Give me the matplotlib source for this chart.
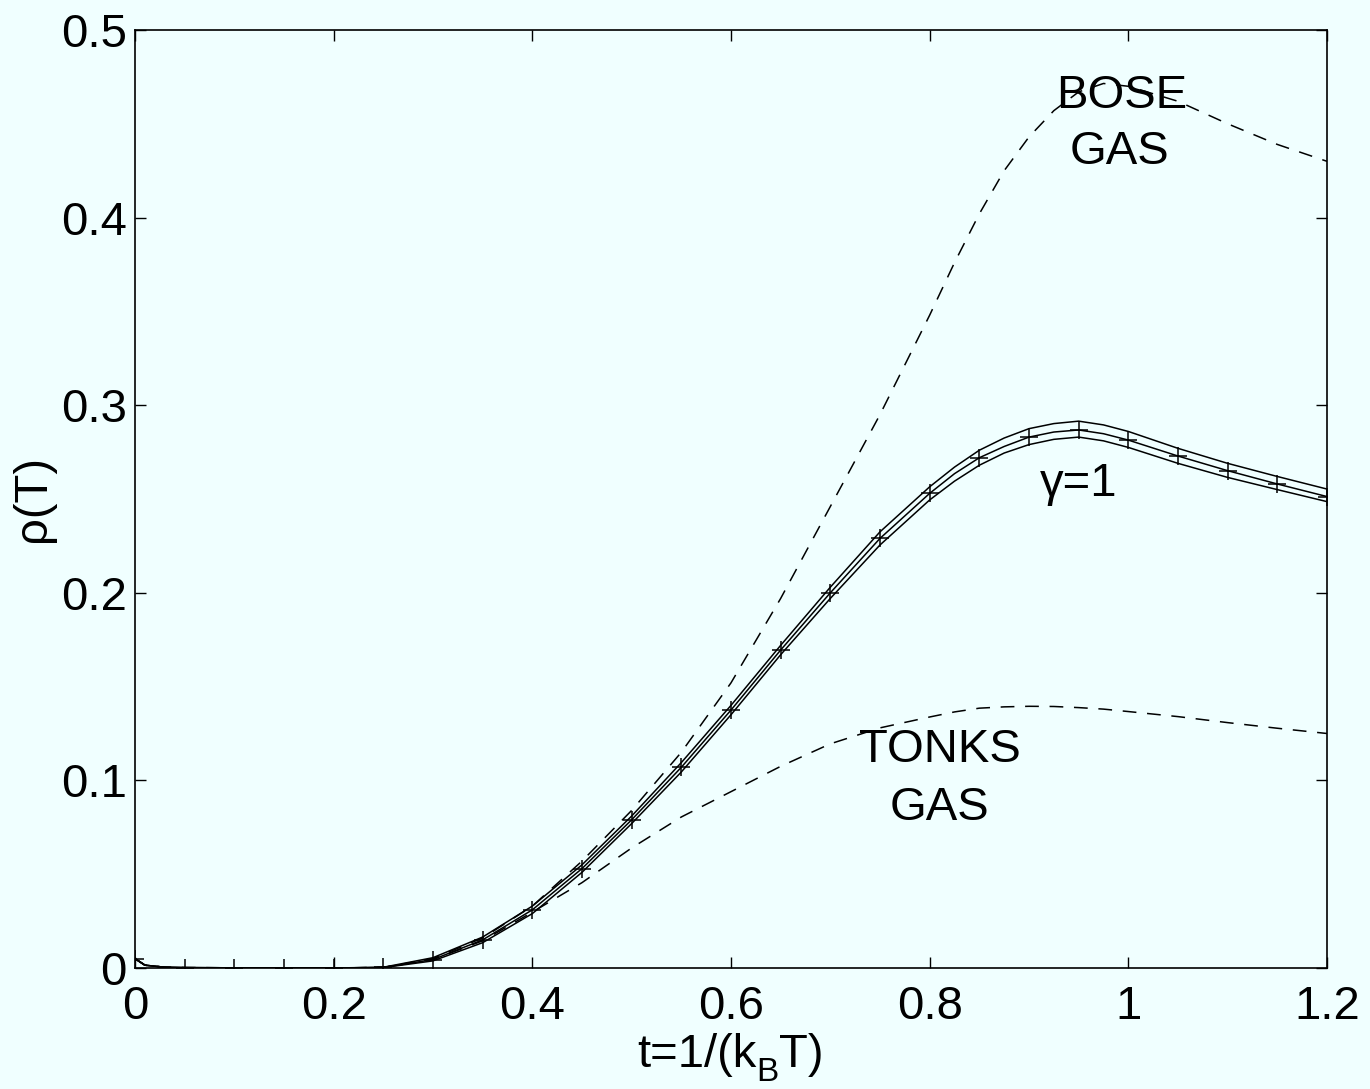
import matplotlib
matplotlib.use("Agg")
import matplotlib.pyplot as plt

plt.rcParams['font.family'] = ['Liberation Sans', 'DejaVu Sans']

# data
t = [0, 0.01, 0.03, 0.05, 0.1, 0.15, 0.2, 0.25, 0.3, 0.35, 0.4, 0.45, 0.5,
     0.55, 0.6, 0.65, 0.7, 0.75, 0.8, 0.825, 0.85, 0.875, 0.9, 0.925, 0.95,
     0.975, 1.0, 1.05, 1.1, 1.15, 1.2]

rho_mid = [0.005, 0.0015, 0.0004, 0.0002, 0.0001, 0.0, 0.0, 0.0003, 0.0045,
           0.015, 0.031, 0.053, 0.079, 0.107, 0.1375, 0.1695, 0.200, 0.229,
           0.253, 0.2635, 0.272, 0.278, 0.283, 0.2857, 0.2868, 0.2848, 0.2814,
           0.2729, 0.2651, 0.258, 0.2513]
rho_up = [0.005, 0.0015, 0.0004, 0.0002, 0.0001, 0.0, 0.0, 0.0004, 0.0055,
          0.0165, 0.033, 0.055, 0.081, 0.1095, 0.140, 0.172, 0.203, 0.2325,
          0.2565, 0.267, 0.276, 0.2825, 0.2875, 0.2902, 0.2915, 0.2895, 0.286,
          0.277, 0.269, 0.262, 0.2553]
rho_low = [0.005, 0.0015, 0.0004, 0.0002, 0.0001, 0.0, 0.0, 0.0002, 0.0038,
           0.0135, 0.029, 0.051, 0.077, 0.1045, 0.135, 0.167, 0.197, 0.2255,
           0.2495, 0.2595, 0.268, 0.2745, 0.279, 0.2818, 0.283, 0.281, 0.2775,
           0.269, 0.2615, 0.255, 0.2486]

rho_bose = [0.005, 0.0015, 0.0004, 0.0002, 0.0001, 0.0, 0.0, 0.0003, 0.005,
            0.016, 0.033, 0.057, 0.084, 0.115, 0.152, 0.197, 0.246, 0.295,
            0.348, 0.376, 0.402, 0.425, 0.443, 0.457, 0.467, 0.4715, 0.470,
            0.462, 0.450, 0.439, 0.430]
rho_tonks = [0.005, 0.0015, 0.0004, 0.0002, 0.0001, 0.0, 0.0, 0.0003, 0.0045,
             0.0145, 0.0298, 0.0455, 0.064, 0.0805, 0.094, 0.1075, 0.1195,
             0.128, 0.1338, 0.1365, 0.1385, 0.1392, 0.1395, 0.1394, 0.1388,
             0.138, 0.1367, 0.134, 0.1308, 0.1278, 0.125]

# points of the gamma=1 curve that carry a '+'
t_marks = [0, 0.05, 0.1, 0.15, 0.2, 0.25, 0.3, 0.35, 0.4, 0.45, 0.5, 0.55,
           0.6, 0.65, 0.7, 0.75, 0.8, 0.85, 0.9, 0.95, 1.0, 1.05, 1.1, 1.15,
           1.2]

bg = '#F0FFFF'
W, H = 1370, 1089
fig = plt.figure(figsize=(W/100, H/100), dpi=100, facecolor=bg)
ax = fig.add_axes([135/W, 1 - 968/H, (1327-135)/W, (968-30)/H])
ax.set_facecolor(bg)

lw = 1.1
marks = [i for i, v in enumerate(t) if v in t_marks]
ax.plot(t, rho_up, color='black', lw=lw)
ax.plot(t, rho_low, color='black', lw=lw)
ax.plot(t, rho_mid, color='black', lw=lw, marker='+', markersize=13,
        markeredgewidth=1.1, markevery=marks)
ax.plot(t, rho_bose, color='black', lw=lw, dashes=(9, 7))
ax.plot(t, rho_tonks, color='black', lw=lw, dashes=(9, 7))

fs = 34
ax.text(0.993, 0.465, 'BOSE', fontsize=fs, ha='center', va='center')
ax.text(0.991, 0.435, 'GAS', fontsize=fs, ha='center', va='center')
ax.text(0.95, 0.258, 'γ=1', fontsize=fs, ha='center', va='center')
ax.text(0.81, 0.116, 'TONKS', fontsize=fs, ha='center', va='center')
ax.text(0.81, 0.0855, 'GAS', fontsize=fs, ha='center', va='center')

ax.set_xlim(0, 1.2)
ax.set_ylim(0, 0.5)
ax.set_xticks([0, 0.2, 0.4, 0.6, 0.8, 1.0, 1.2])
ax.set_xticklabels(['0', '0.2', '0.4', '0.6', '0.8', '1', '1.2'])
ax.set_yticks([0, 0.1, 0.2, 0.3, 0.4, 0.5])
ax.set_yticklabels(['0', '0.1', '0.2', '0.3', '0.4', '0.5'])
ax.tick_params(direction='in', length=8, width=1, top=True, right=True,
               labelsize=fs)
ax.tick_params(axis='x', pad=12)
ax.tick_params(axis='y', pad=6)
for s in ax.spines.values():
    s.set_linewidth(1.2)

ax.set_ylabel('ρ(T)', fontsize=fs, labelpad=4)

# x label built from pieces so the subscript B sits low like the original
fig.canvas.draw()
r = fig.canvas.get_renderer()
pieces = [('t=1/(k', fs, 1067), ('B', 24, 1081), ('T)', fs, 1067)]
widths = []
for s, size, _ in pieces:
    tmp = fig.text(0, 0, s, fontsize=size)
    widths.append(tmp.get_window_extent(r).width)
    tmp.remove()
x = 730 - sum(widths) / 2
for (s, size, base), w in zip(pieces, widths):
    fig.text(x / W, 1 - base / H, s, fontsize=size, va='baseline', ha='left')
    x += w

fig.savefig('out.png', dpi=100, facecolor=bg)
